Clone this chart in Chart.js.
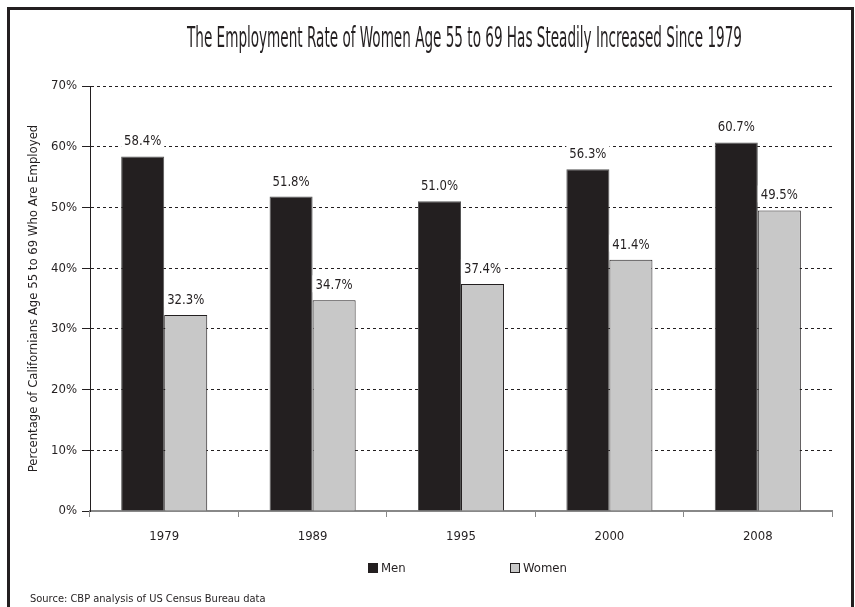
<!DOCTYPE html>
<html>
<head>
<meta charset="utf-8">
<script src="https://cdn.jsdelivr.net/npm/chart.js@4"></script>
<style>
  html, body { margin: 0; padding: 0; background: #fff; }
  canvas { display: block; }
</style>
</head>
<body>
<canvas id="c" width="855" height="607"></canvas>
<script>
const categories = ['1979', '1989', '1995', '2000', '2008'];
const menValues = [58.4, 51.8, 51.0, 56.3, 60.7];
const womenValues = [32.3, 34.7, 37.4, 41.4, 49.5];
const seriesNames = ['Men', 'Women'];
const titleText = 'The Employment Rate of Women Age 55 to 69 Has Steadily Increased Since 1979';
const yAxisTitle = 'Percentage of Californians Age 55 to 69 Who Are Employed';
const sourceText = 'Source: CBP analysis of US Census Bureau data';

const FONT = "'Liberation Sans Narrow', 'Arial Narrow', 'DejaVu Sans Condensed', sans-serif";
const INK = '#231f20';

const decorPlugin = {
  id: 'decor',
  beforeDraw(chart) {
    const ctx = chart.ctx;
    ctx.save();
    ctx.fillStyle = '#fff';
    ctx.fillRect(0, 0, chart.width, chart.height);
    ctx.restore();
  },
  afterDraw(chart) {
    const ctx = chart.ctx;
    ctx.save();
    // outer frame
    ctx.strokeStyle = INK;
    ctx.lineWidth = 3;
    ctx.strokeRect(8.5, 8.5, 844, 640);
    // title (condensed)
    ctx.fillStyle = INK;
    ctx.font = '26px ' + FONT;
    ctx.textBaseline = 'alphabetic';
    ctx.textAlign = 'center';
    const w = ctx.measureText(titleText).width;
    const targetW = 555;
    const sx = targetW / w;
    ctx.translate(464.5, 47);
    ctx.scale(sx, 1.1);
    ctx.fillText(titleText, 0, 0);
    ctx.restore();

    // legend
    ctx.save();
    ctx.font = '13px ' + FONT;
    ctx.textBaseline = 'middle';
    ctx.textAlign = 'left';
    const legendX = [368, 510];
    const ly = 568;
    chart.data.datasets.forEach((ds, i) => {
      ctx.fillStyle = ds.backgroundColor;
      ctx.fillRect(legendX[i], ly - 5, 10, 10);
      ctx.strokeStyle = INK;
      ctx.lineWidth = 1;
      ctx.strokeRect(legendX[i] + 0.5, ly - 4.5, 9, 9);
      ctx.fillStyle = INK;
      ctx.fillText(ds.label, legendX[i] + 13, ly + 1);
    });
    // source
    ctx.font = '11px ' + FONT;
    ctx.fillText(sourceText, 30, 599);
    ctx.restore();
  },
  afterDatasetsDraw(chart) {
    const ctx = chart.ctx;
    ctx.save();
    ctx.font = '13px ' + FONT;
    ctx.textAlign = 'center';
    ctx.textBaseline = 'alphabetic';
    chart.data.datasets.forEach((ds, di) => {
      const meta = chart.getDatasetMeta(di);
      meta.data.forEach((bar, i) => {
        const label = ds.data[i].toFixed(1) + '%';
        const tw = ctx.measureText(label).width;
        const by = bar.y - 11;
        ctx.fillStyle = '#fff';
        ctx.fillRect(bar.x - tw / 2 - 3, by - 14, tw + 6, 17);
        ctx.fillStyle = INK;
        ctx.save();
        ctx.translate(bar.x, by);
        ctx.scale(1, 1.12);
        ctx.fillText(label, 0, 0);
        ctx.restore();
      });
    });
    ctx.restore();
  }
};

new Chart(document.getElementById('c'), {
  type: 'bar',
  data: {
    labels: categories,
    datasets: [
      { label: seriesNames[0], data: menValues, backgroundColor: INK, borderColor: '#555', borderWidth: 1 },
      { label: seriesNames[1], data: womenValues, backgroundColor: '#c8c8c8', borderColor: INK, borderWidth: 1 }
    ]
  },
  options: {
    responsive: false,
    animation: false,
    devicePixelRatio: 1,
    categoryPercentage: 0.58,
    barPercentage: 1.0,
    layout: { padding: { left: 20, right: 23, top: 86, bottom: 56 } },
    plugins: {
      legend: { display: false },
      title: { display: false },
      tooltip: { enabled: false }
    },
    scales: {
      x: {
        afterFit(s) { s.height = 40; },
        grid: { drawOnChartArea: false, drawTicks: true, tickLength: 6, tickColor: '#888', offset: true },
        border: { display: true, color: '#888', width: 2 },
        ticks: { color: INK, font: { family: FONT, size: 13 }, padding: 12 }
      },
      y: {
        min: 0, max: 70,
        afterFit(s) { s.width = 70; },
        ticks: { stepSize: 10, color: INK, font: { family: FONT, size: 13 }, padding: 5,
                 callback: v => v + '%' },
        grid: {
          color: ctx => (ctx.tick && ctx.tick.value === 0) ? 'rgba(0,0,0,0)' : INK,
          lineWidth: 1,
          drawTicks: true, tickLength: 8, tickColor: INK, tickBorderDash: [], tickWidth: 1
        },
        border: { display: true, color: INK, width: 1, dash: [3, 3] },
        title: { display: true, text: yAxisTitle, color: INK, font: { family: FONT, size: 13 }, padding: { top: 6, bottom: 0 } }
      }
    }
  },
  plugins: [decorPlugin]
});
</script>
</body>
</html>
